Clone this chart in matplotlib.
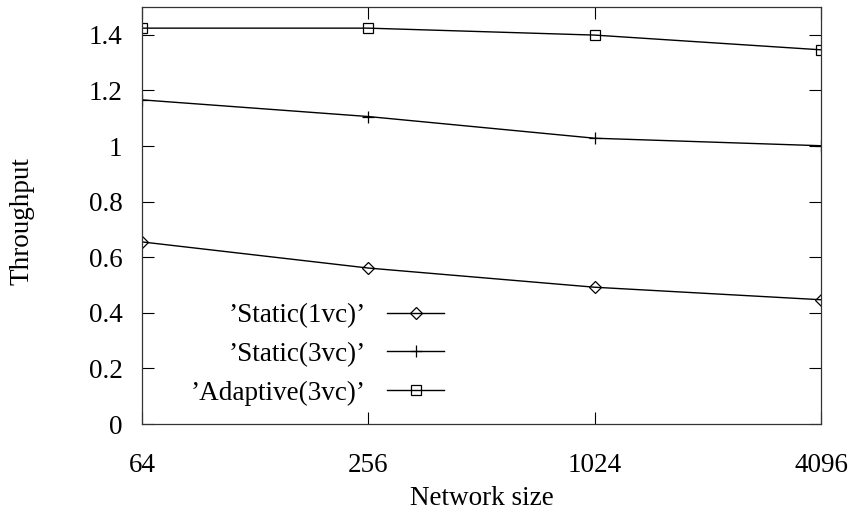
import matplotlib
matplotlib.use('Agg')
import matplotlib.pyplot as plt

# network sizes (x) and throughput per scheme
sizes = [64, 256, 1024, 4096]
static1 = [0.655, 0.561, 0.492, 0.447]
static3 = [1.166, 1.106, 1.028, 1.001]
adaptive3 = [1.424, 1.424, 1.399, 1.346]
labels = ['\u2019Static(1vc)\u2019', '\u2019Static(3vc)\u2019', '\u2019Adaptive(3vc)\u2019']

plt.rcParams['font.family'] = ['Liberation Serif', 'DejaVu Serif']
plt.rcParams['font.size'] = 19.5

fig = plt.figure(figsize=(8.58, 5.2), dpi=100)
ax = fig.add_axes([0.1655, 0.1846, 0.957 - 0.1655, 0.9865 - 0.1846])

ax.plot(sizes, static1, color='black', lw=1.0, marker='D', ms=6, mfc='none', mew=0.9, label=labels[0])
ax.plot(sizes, static3, color='black', lw=1.0, marker='+', ms=9, mew=0.9, label=labels[1])
ax.plot(sizes, adaptive3, color='black', lw=1.0, marker='s', ms=7, mfc='none', mew=0.9, label=labels[2])

ax.set_xscale('log', base=2)
ax.set_xlim(64, 4096)
ax.set_ylim(0, 1.5)
ax.set_xticks(sizes)
ax.set_xticklabels([str(s) for s in sizes])
ax.minorticks_off()
ax.set_yticks([0, 0.2, 0.4, 0.6, 0.8, 1, 1.2, 1.4])
ax.set_yticklabels(['0', '0.2', '0.4', '0.6', '0.8', '1', '1.2', '1.4'])
ax.tick_params(direction='in', length=8.6, width=0.8, top=True, right=True)
ax.tick_params(axis='x', pad=21)
ax.tick_params(axis='y', pad=14)
for s in ax.spines.values():
    s.set_linewidth(0.9)
    s.set_color('#333333')

ax.set_xlabel('Network size')
ax.xaxis.set_label_coords(0.5, -0.1487)
ax.set_ylabel('Throughput')
ax.yaxis.set_label_coords(-0.159, 0.486)

ax.legend(loc='center right', bbox_to_anchor=(0.445, 0.167), frameon=False,
          markerfirst=False, handlelength=2.1, handletextpad=0.8,
          labelspacing=0.505, borderpad=0, borderaxespad=0)

fig.savefig('out.png', dpi=100)
